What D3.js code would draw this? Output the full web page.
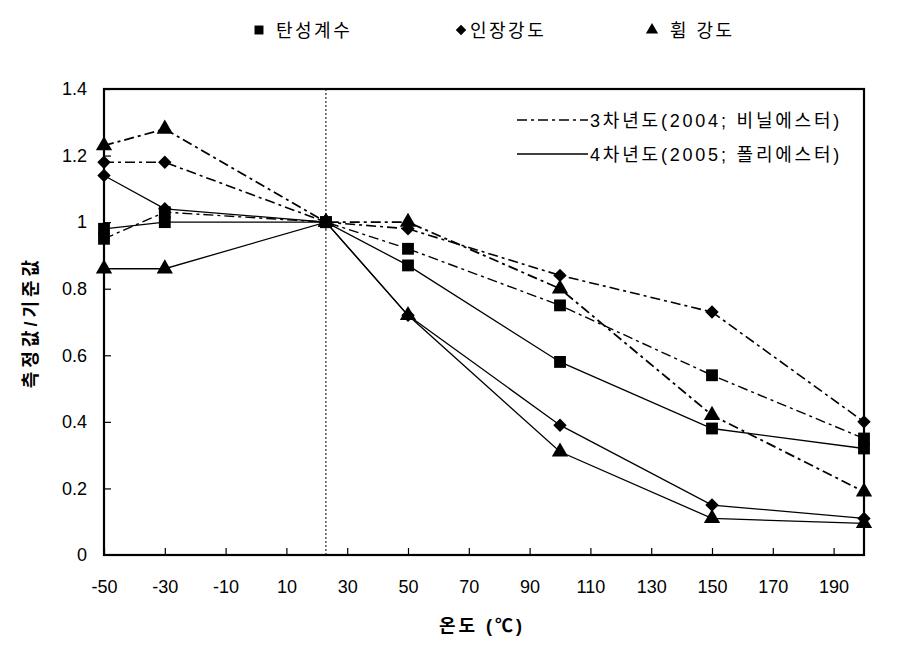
<!DOCTYPE html>
<html>
<head>
<meta charset="utf-8">
<script src="https://cdn.jsdelivr.net/npm/d3@7"></script>
<style>
  body { margin: 0; background: #fff; }
  text { font-family: "Liberation Sans", Arial, "Noto Sans CJK KR", sans-serif; fill: #000; }
</style>
</head>
<body>
<script>
// temperatures (x) and values, one array per property and year
var temps = [-50, -30, 23, 50, 100, 150, 200];

var modulus2004 = [0.95, 1.03, 1.0, 0.92, 0.75, 0.54, 0.35];
var modulus2005 = [0.98, 1.0, 1.0, 0.87, 0.58, 0.38, 0.32];
var tensile2004 = [1.18, 1.18, 1.0, 0.98, 0.84, 0.73, 0.40];
var tensile2005 = [1.14, 1.04, 1.0, 0.72, 0.39, 0.15, 0.11];
var flex2004 = [1.23, 1.28, 1.0, 1.0, 0.80, 0.42, 0.19];
var flex2005 = [0.86, 0.86, 1.0, 0.72, 0.31, 0.11, 0.095];

var xTicks = [-50, -30, -10, 10, 30, 50, 70, 90, 110, 130, 150, 170, 190];
var yTicks = [0, 0.2, 0.4, 0.6, 0.8, 1, 1.2, 1.4];
var refTemp = 23;

var propNames = ["탄성계수", "인장강도", "휨 강도"];
var yearNames = ["3차년도(2004; 비닐에스터)", "4차년도(2005; 폴리에스터)"];

var width = 907, height = 647;
var margin = {top: 89, right: 43, bottom: 92, left: 104};

var svg = d3.select("body").append("svg")
  .attr("width", width).attr("height", height);

var x = d3.scaleLinear().domain([-50, 200]).range([margin.left, width - margin.right]);
var y = d3.scaleLinear().domain([0, 1.4]).range([height - margin.bottom, margin.top]);

// axes (ticks point inwards), plain hyphen for minus
var xAxis = d3.axisBottom(x).tickValues(xTicks).tickSizeInner(-7).tickSizeOuter(0).tickPadding(22)
  .tickFormat(function(d){ return String(d); });
var yAxis = d3.axisLeft(y).tickValues(yTicks).tickSizeInner(-7).tickSizeOuter(0).tickPadding(17)
  .tickFormat(function(d){ return String(d); });

var gx = svg.append("g").attr("transform", "translate(0," + y(0) + ")").call(xAxis);
var gy = svg.append("g").attr("transform", "translate(" + x(-50) + ",0)").call(yAxis);
[gx, gy].forEach(function(g){
  g.select(".domain").remove();
  g.selectAll(".tick line").attr("stroke", "#000").attr("stroke-width", 1.2);
  g.selectAll(".tick text").attr("font-size", 18).style("fill", "#000");
});
gx.selectAll(".tick text").attr("dy", "0.9em");
gy.selectAll(".tick").filter(function(d){ return d === 0; }).select("line").remove();

// frame
svg.append("rect")
  .attr("x", x(-50)).attr("y", y(1.4))
  .attr("width", x(200) - x(-50)).attr("height", y(0) - y(1.4))
  .attr("fill", "none").attr("stroke", "#000").attr("stroke-width", 2.2);

// reference temperature line
svg.append("line")
  .attr("x1", x(refTemp)).attr("x2", x(refTemp))
  .attr("y1", y(1.4)).attr("y2", y(0))
  .attr("stroke", "#000").attr("stroke-width", 1).attr("stroke-dasharray", "2,2");

var dashDot = "10,4,3,4";
var series = [
  {vals: modulus2004, shape: "square", dash: dashDot, w: 1.4},
  {vals: tensile2004, shape: "diamond", dash: dashDot, w: 1.6},
  {vals: flex2004, shape: "triangle", dash: dashDot, w: 1.8},
  {vals: modulus2005, shape: "square", dash: null, w: 1.3},
  {vals: tensile2005, shape: "diamond", dash: null, w: 1.3},
  {vals: flex2005, shape: "triangle", dash: null, w: 1.3}
];

var squareSym = d3.symbol().type(d3.symbolSquare);
function markerPath(shape, big) {
  if (shape === "square") return squareSym.size(big ? 140 : 80)();
  if (shape === "diamond") return squareSym.size(big ? 90 : 55)();
  return d3.symbol().type(d3.symbolTriangle).size(big ? 115 : 65)();
}
function markerRot(shape) { return shape === "diamond" ? " rotate(45)" : ""; }

var line = d3.line().x(function(d){ return x(d[0]); }).y(function(d){ return y(d[1]); });

series.forEach(function(s){
  var pts = temps.map(function(t, i){ return [t, s.vals[i]]; });
  svg.append("path").datum(pts)
    .attr("d", line).attr("fill", "none").attr("stroke", "#000")
    .attr("stroke-width", s.w)
    .attr("stroke-dasharray", s.dash);
});
series.forEach(function(s){
  var pts = temps.map(function(t, i){ return [t, s.vals[i]]; });
  svg.selectAll(null).data(pts).enter().append("path")
    .attr("d", markerPath(s.shape, true))
    .attr("transform", function(d){ return "translate(" + x(d[0]) + "," + y(d[1]) + ")" + markerRot(s.shape); })
    .attr("fill", "#000");
});

// top legend (marker types)
var topLeg = [
  {shape: "square", mx: 259, tx: 276},
  {shape: "diamond", mx: 461, tx: 470},
  {shape: "triangle", mx: 652, tx: 670}
];
topLeg.forEach(function(l, i){
  svg.append("path").attr("d", markerPath(l.shape, false))
    .attr("transform", "translate(" + l.mx + ",30)" + markerRot(l.shape)).attr("fill", "#000");
  svg.append("text").attr("x", l.tx).attr("y", 37)
    .attr("font-size", 18).attr("letter-spacing", 2.5).text(propNames[i]);
});

// line style legend
[dashDot, null].forEach(function(dash, i){
  var ly = 120 + i * 34;
  svg.append("line").attr("x1", 517).attr("x2", 588).attr("y1", ly).attr("y2", ly)
    .attr("stroke", "#000").attr("stroke-width", 1.5).attr("stroke-dasharray", dash);
  svg.append("text").attr("x", 590).attr("y", ly + 7)
    .attr("font-size", 18).attr("letter-spacing", 2.8).text(yearNames[i]);
});

// axis titles
svg.append("text").attr("x", 482).attr("y", 632).attr("text-anchor", "middle")
  .attr("font-size", 18).attr("font-weight", "bold").attr("letter-spacing", 3).text("온도 (℃)");
svg.append("text").attr("transform", "translate(37,322) rotate(-90)")
  .attr("text-anchor", "middle").attr("font-size", 18).attr("font-weight", "bold")
  .attr("letter-spacing", 4).text("측정값/기준값");
</script>
</body>
</html>
